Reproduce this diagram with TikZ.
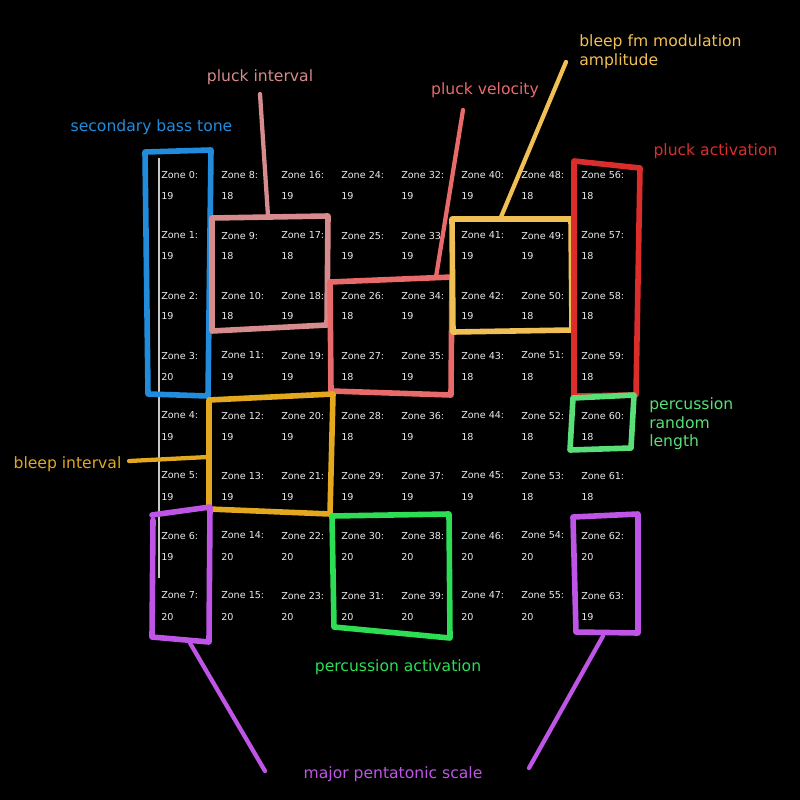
\documentclass[tikz,border=0pt]{standalone}
\usepackage{fontspec}
\setmainfont{DejaVu Sans}
\definecolor{bassblue}{RGB}{33,140,220}
\definecolor{intpink}{RGB}{214,140,140}
\definecolor{velred}{RGB}{232,106,106}
\definecolor{fmyellow}{RGB}{240,192,84}
\definecolor{actred}{RGB}{220,45,45}
\definecolor{lenggreen}{RGB}{90,222,120}
\definecolor{bleeporange}{RGB}{228,168,30}
\definecolor{percgreen}{RGB}{45,222,85}
\definecolor{pentapurple}{RGB}{190,85,230}
\definecolor{zonetext}{RGB}{235,235,235}
\begin{document}
\begin{tikzpicture}[x=0.75pt,y=-0.75pt,
  zone/.style={anchor=west,inner sep=0pt,text=zonetext,font=\fontsize{7.2}{8}\selectfont},
  tag/.style={inner sep=0pt,font=\fontsize{11.7}{14}\selectfont},
  region/.style={line width=4.2pt,line join=round,line cap=round},
  leader/.style={line width=3.2pt,line cap=round}]
\useasboundingbox (0,0) rectangle (800,800);
\fill[black] (0,0) rectangle (800,800);

% zone readings, eight per column
\foreach \col/\vals in {0/{19,19,19,20,19,19,19,20},
                        1/{18,18,18,19,19,19,20,20},
                        2/{19,18,19,19,19,19,20,20},
                        3/{19,19,18,18,18,19,20,20},
                        4/{19,19,19,19,19,19,20,20},
                        5/{19,19,19,18,18,19,20,20},
                        6/{18,19,18,18,18,18,20,20},
                        7/{18,18,18,18,18,18,20,19}} {
  \foreach \v [count=\r from 0] in \vals {
    \pgfmathtruncatemacro{\idx}{\col*8+\r}
    \node[zone] (z\idx) at (161+60*\col,175.5+60*\r) {Zone \idx:};
    \node[zone] (v\idx) at (161+60*\col,196.5+60*\r) {\v};
  }
}

% thin marker line beside the first column
\draw[line width=2pt,color=zonetext!85!black] (159,158) coordinate (mk1) -- (159,578) coordinate (mk2);

% secondary bass tone
\node[tag,text=bassblue] (lbass) at (151.5,127) {secondary bass tone};
\draw[region,bassblue] (145,152) -- (211,150) -- (208,396) -- (148,394) -- cycle;

% pluck interval
\node[tag,text=intpink] (lint) at (260,77) {pluck interval};
\draw[region,intpink] (212,218) -- (328,216) -- (327,325) -- (212,331) -- cycle;
\coordinate (intA) at (268,216);
\coordinate (intB) at (260,94);
\draw[leader,intpink] (intA) -- (intB);

% pluck velocity
\node[tag,text=velred] (lvel) at (485,90) {pluck velocity};
\draw[region,velred] (330,282) -- (452,277) -- (451,395) -- (331,391) -- cycle;
\coordinate (velA) at (436,277);
\coordinate (velB) at (463,110);
\draw[leader,velred] (velA) -- (velB);

% bleep fm modulation amplitude
\node[tag,text=fmyellow,anchor=west,align=left] (lfm) at (579,52) {bleep fm modulation\\amplitude};
\draw[region,fmyellow] (452,219) -- (571,219) -- (572,330) -- (453,332) -- cycle;
\coordinate (fmA) at (501,217);
\coordinate (fmB) at (566,62);
\draw[leader,fmyellow] (fmA) -- (fmB);

% pluck activation
\node[tag,text=actred] (lact) at (715.5,151.5) {pluck activation};
\draw[region,actred] (574,161) -- (640,168) -- (636,395) -- (574,396) -- cycle;

% percussion random length
\node[tag,text=lenggreen,anchor=west,align=left] (lrnd) at (649,424) {percussion\\random\\length};
\draw[region,lenggreen] (573,398) -- (634,395) -- (631,448) -- (570,450) -- cycle;

% bleep interval
\node[tag,text=bleeporange] (lbleep) at (67.5,464.5) {bleep interval};
\draw[region,bleeporange] (209,400) -- (333,394) -- (330,514) -- (209,509) -- cycle;
\coordinate (blA) at (208,457);
\coordinate (blB) at (129,461);
\draw[leader,bleeporange] (blA) -- (blB);

% percussion activation
\node[tag,text=percgreen] (lperc) at (398,667) {percussion activation};
\draw[region,percgreen] (332,516) -- (449,514) -- (450,638) -- (334,627) -- cycle;

% major pentatonic scale
\node[tag,text=pentapurple] (lpenta) at (393,774) {major pentatonic scale};
\draw[region,pentapurple] (152,515) -- (210,507) -- (209,642) -- (152,637) -- (153,520);
\draw[region,pentapurple] (573,517) -- (638,514) -- (638,633) -- (576,632) -- cycle;
\coordinate (peA) at (190,643);
\coordinate (peB) at (265,771);
\coordinate (peC) at (603,636);
\coordinate (peD) at (529,768);
\draw[leader,pentapurple] (peA) -- (peB);
\draw[leader,pentapurple] (peC) -- (peD);
\end{tikzpicture}
\end{document}
